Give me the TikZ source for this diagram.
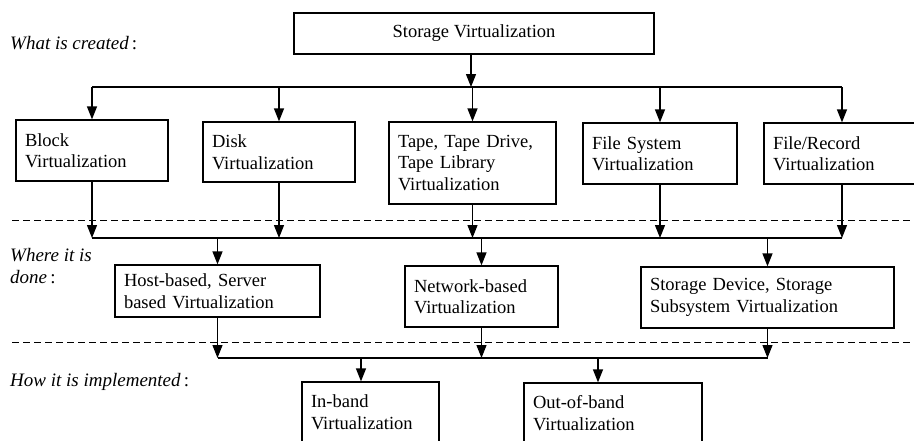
\documentclass[tikz,border=0pt]{standalone}
\usepackage{fontspec}
\setmainfont{Liberation Serif}
\usetikzlibrary{arrows.meta}
\begin{document}
\begin{tikzpicture}[x=1pt,y=-1pt,
  box/.style={draw,line width=1.2pt,inner xsep=9pt,inner ysep=0pt,align=left,font=\fontsize{18.5}{21.5}\selectfont},
  arr/.style={line width=1.2pt,-{Triangle[width=10pt,length=13pt]}},
  ln/.style={line width=1.2pt},
  sep/.style={line width=1pt,dash pattern=on 7pt off 4pt},
  lab/.style={anchor=west,inner sep=0pt,align=left,font=\fontsize{19}{22}\selectfont\itshape}]
\useasboundingbox (0,0) rectangle (914,440);
% boxes
\node[box,align=center,minimum width=360pt,minimum height=41pt] (top) at (474,33.5) {Storage Virtualization};
\node[box,minimum width=152pt,minimum height=61pt,text width=134pt] (block) at (92,150.5) {Block\\Virtualization};
\node[box,minimum width=152pt,minimum height=60pt,text width=134pt] (disk) at (279,152) {Disk\\Virtualization};
\node[box,minimum width=167pt,minimum height=82pt,text width=149pt] (tape) at (472.5,163) {Tape, Tape Drive,\\Tape Library\\Virtualization};
\node[box,minimum width=154pt,minimum height=61pt,text width=136pt] (fsys) at (660,153.5) {File System\\Virtualization};
\node[box,minimum width=156pt,minimum height=61pt,text width=138pt] (frec) at (842,153.5) {File/Record\\Virtualization};
\node[box,minimum width=205pt,minimum height=52pt,text width=187pt] (host) at (217.5,291) {Host-based, Server\\based Virtualization};
\node[box,minimum width=153pt,minimum height=61pt,text width=135pt] (net) at (481.5,296.5) {Network-based\\Virtualization};
\node[box,minimum width=253pt,minimum height=61pt,text width=235pt] (sdev) at (767.5,297.5) {Storage Device, Storage\\Subsystem Virtualization};
\node[box,minimum width=137pt,minimum height=60pt,text width=119pt] (inb) at (370.5,412) {In-band\\Virtualization};
\node[box,minimum width=178pt,minimum height=60pt,text width=160pt] (outb) at (613,413) {Out-of-band\\Virtualization};
% labels
\node[lab] (l1) at (10,43) {What is created\,\upshape:};
\node[lab] (l2) at (10,266) {Where it is\\done\,\upshape:};
\node[lab] (l3) at (10,382) {How it is implemented\,\upshape:};
% separators
\coordinate (d1a) at (12,220); \coordinate (d1b) at (914,220);
\coordinate (d2a) at (12,342); \coordinate (d2b) at (914,342);
\draw[sep] (d1a) -- (d1b);
\draw[sep] (d2a) -- (d2b);
% bus 1
\coordinate (b1a) at (92,87); \coordinate (b1b) at (842,87); \coordinate (t1) at (471,87);
\draw[arr] (t1 |- top.south) -- (t1);
\draw[ln] (b1a) -- (b1b);
\foreach \n in {block,disk,tape,fsys,frec} {\draw[arr] (\n.north |- b1a) -- (\n.north);}
% bus 2
\coordinate (b2a) at (92,238); \coordinate (b2b) at (842,238);
\foreach \n in {block,disk,tape,fsys,frec} {\draw[arr] (\n.south) -- (\n.south |- b2a);}
\draw[ln] (b2a) -- (b2b);
\foreach \n in {host,net,sdev} {\draw[arr] (\n.north |- b2a) -- (\n.north);}
% bus 3
\coordinate (b3a) at (217.5,358); \coordinate (b3b) at (767.5,358);
\coordinate (ia) at (361,358); \coordinate (oa) at (598,358);
\foreach \n in {host,net,sdev} {\draw[arr] (\n.south) -- (\n.south |- b3a);}
\draw[ln] (b3a) -- (b3b);
\draw[arr] (ia) -- (ia |- inb.north);
\draw[arr] (oa) -- (oa |- outb.north);
\end{tikzpicture}
\end{document}
